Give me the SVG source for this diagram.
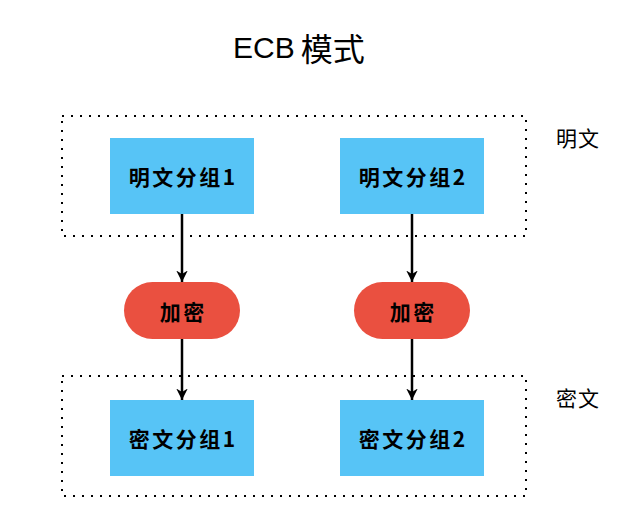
<svg xmlns="http://www.w3.org/2000/svg" width="637" height="522" viewBox="0 0 637 522">
<style>
.grp{fill:none;stroke:#000;stroke-width:2;stroke-dasharray:2 7}
.blk{fill:#57C4F6}
.enc{fill:#EA5040}
.t{font-family:"Noto Sans CJK SC","Noto Sans",sans-serif;font-size:21px;font-weight:bold;fill:#000;text-anchor:middle;dominant-baseline:central;letter-spacing:2.5px}
.lbl{font-family:"Noto Sans CJK SC","Noto Sans",sans-serif;font-size:21px;fill:#000;text-anchor:middle;dominant-baseline:central;letter-spacing:1px}
.edge{stroke:#000;stroke-width:2.5;fill:none;marker-end:url(#ah)}
</style>
<defs>
<marker id="ah" viewBox="0 0 10 10" refX="10" refY="5" markerWidth="4.6" markerHeight="4.6" markerUnits="strokeWidth" orient="auto">
<path d="M0,0 L10,5 L0,10 L3,5 z" fill="#000"/>
</marker>
</defs>
<rect width="637" height="522" fill="#fff"/>
<text x="233" y="47" font-family="'Liberation Sans','Noto Sans CJK SC',sans-serif" font-size="30" dominant-baseline="central" fill="#000">ECB<tspan dx="6" font-family="'Noto Sans CJK SC',sans-serif" font-size="32">模式</tspan></text>
<g id="plain-group">
<rect class="grp" x="62" y="116" width="464" height="120"/>
<text class="lbl" x="578" y="137">明文</text>
</g>
<g id="cipher-group">
<rect class="grp" x="62" y="376" width="464" height="120"/>
<text class="lbl" x="578" y="397">密文</text>
</g>
<g id="edges">
<line class="edge" x1="182" y1="214" x2="182" y2="282"/>
<line class="edge" x1="412" y1="214" x2="412" y2="282"/>
<line class="edge" x1="182" y1="339" x2="182" y2="400"/>
<line class="edge" x1="412" y1="339" x2="412" y2="400"/>
</g>
<g id="p1"><rect class="blk" x="110" y="138" width="144" height="76"/><text class="t" x="183.25" y="176">明文分组1</text></g>
<g id="p2"><rect class="blk" x="340" y="138" width="144" height="76"/><text class="t" x="413.25" y="176">明文分组2</text></g>
<g id="e1"><rect class="enc" x="124" y="282" width="116" height="57" rx="28.5"/><text class="t" x="183.25" y="310.5">加密</text></g>
<g id="e2"><rect class="enc" x="354" y="282" width="116" height="57" rx="28.5"/><text class="t" x="413.25" y="310.5">加密</text></g>
<g id="c1"><rect class="blk" x="110" y="400" width="144" height="76"/><text class="t" x="183.25" y="438">密文分组1</text></g>
<g id="c2"><rect class="blk" x="340" y="400" width="144" height="76"/><text class="t" x="413.25" y="438">密文分组2</text></g>
</svg>
